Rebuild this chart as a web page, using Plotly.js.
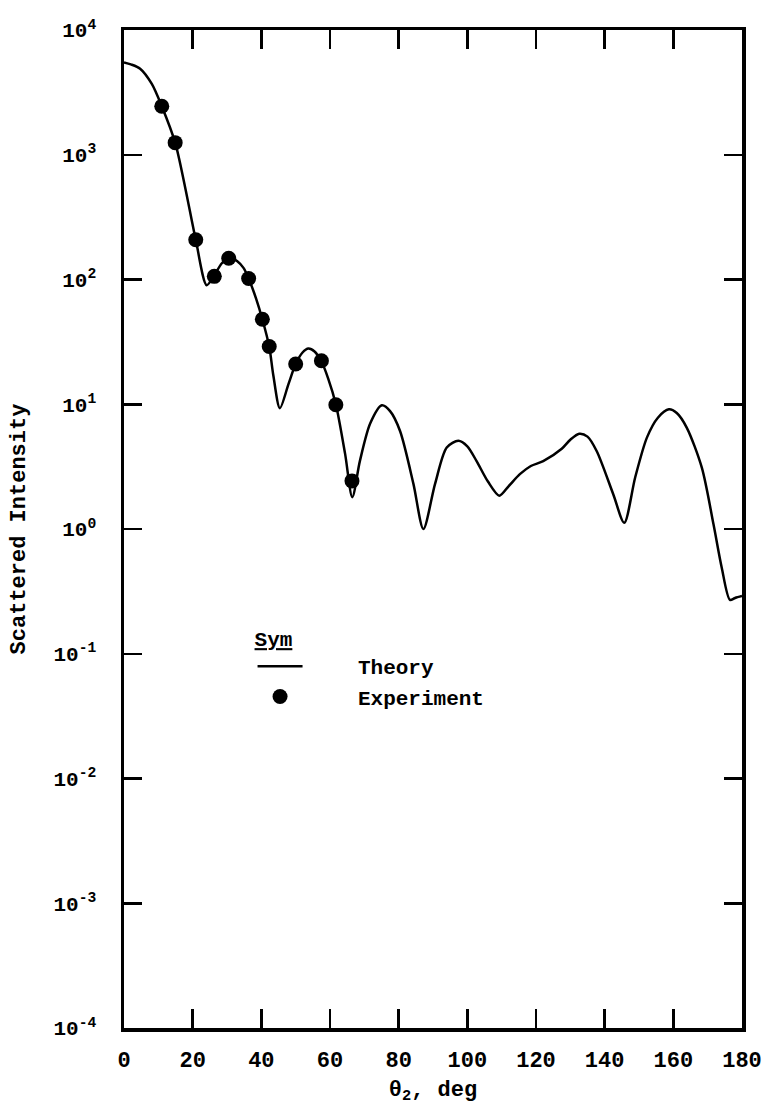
<!DOCTYPE html>
<html><head><meta charset="utf-8">
<script src="https://cdn.plot.ly/plotly-3.0.1.min.js"></script>
<style>html,body{margin:0;padding:0;background:#fff}#chart{width:774px;height:1117px}</style>
</head><body><div id="chart"></div>
<script>
const thetaTheory = [0, 2, 4.7, 8.1, 11, 14.9, 17.8, 20.9, 24.1, 26.3, 28.5, 30.8, 33, 34.8, 36.3, 38.5, 40.3, 42.3, 43.5, 45.4, 47.9, 50, 52, 53.7, 55.5, 57.5, 59.5, 61.7, 64.4, 66.5, 68.7, 71.7, 75.1, 77.5, 80.4, 84.3, 87.2, 90.6, 94, 97.4, 100, 102.7, 106, 109.3, 112, 115.3, 118.5, 122.1, 127.5, 130, 132.6, 135, 137.7, 142.5, 145.7, 148.9, 152.3, 155.5, 158.7, 161, 163.9, 168.3, 171.7, 174.1, 176.5, 178, 180];
const intensityTheory = [5500, 5300, 4900, 3700, 2450, 1250, 550, 208, 90, 108, 135, 150, 140, 124, 102, 70, 48, 29, 17, 9.3, 14.5, 21, 26, 28, 26.5, 22, 16, 10, 4.0, 1.8, 3.5, 7, 9.8, 8.8, 6.1, 2.3, 1.0, 2.3, 4.5, 5.1, 4.6, 3.5, 2.4, 1.85, 2.2, 2.75, 3.2, 3.5, 4.4, 5.2, 5.8, 5.5, 4.2, 1.9, 1.12, 2.6, 5.4, 7.8, 9.1, 8.5, 6.5, 3.1, 1.09, 0.49, 0.27, 0.28, 0.29];
const thetaExp = [11.0, 14.9, 20.9, 26.3, 30.5, 36.3, 40.3, 42.3, 50.0, 57.5, 61.7, 66.4];
const intensityExp = [2450, 1250, 208, 106, 148, 102, 48, 29, 21, 22.3, 9.9, 2.43];
const xTickVals = [0, 20, 40, 60, 80, 100, 120, 140, 160, 180];
const yTickVals = [1e-4, 1e-3, 1e-2, 1e-1, 1, 10, 100, 1000, 10000];
const yTickText = ['10<sup>-4</sup>', '10<sup>-3</sup>', '10<sup>-2</sup>', '10<sup>-1</sup>', '10<sup>0</sup>', '10<sup>1</sup>', '10<sup>2</sup>', '10<sup>3</sup>', '10<sup>4</sup>'];
const legendNames = ['Theory', 'Experiment'];

const mono = 'Liberation Mono, Courier New, monospace';
const pad = '\u00a0\u00a0\u00a0\u00a0';
const traces = [
  {x: thetaTheory, y: intensityTheory, type: 'scatter', mode: 'lines', name: pad + legendNames[0],
   line: {color: '#000', width: 2.5, shape: 'spline', smoothing: 0.8}},
  {x: thetaExp, y: intensityExp, type: 'scatter', mode: 'markers', name: pad + legendNames[1],
   marker: {color: '#000', size: 15}}
];
const layout = {
  width: 774, height: 1117,
  margin: {l: 124, r: 32, t: 30, b: 89},
  paper_bgcolor: '#fff', plot_bgcolor: '#fff',
  showlegend: true,
  legend: {x: 0.208, y: 0.41, xanchor: 'left', yanchor: 'top', bgcolor: 'rgba(0,0,0,0)',
    font: {family: mono, size: 21, color: '#000', weight: 'bold'},
    title: {text: '<u>Sym</u>', side: 'top', font: {family: mono, size: 21, color: '#000', weight: 'bold'}},
    itemwidth: 45, tracegroupgap: 0},
  xaxis: {range: [0, 180], tickvals: xTickVals, ticks: 'inside', ticklen: 19, tickwidth: 2.5,
    tickcolor: '#000', showline: true, linewidth: 3.5, linecolor: '#000', mirror: 'ticks',
    showgrid: false, zeroline: false, ticklabelstandoff: 9,
    tickfont: {family: mono, size: 22, color: '#000', weight: 'bold'},
    title: {text: 'θ<sub>2</sub>, deg', font: {family: mono, size: 22, color: '#000', weight: 'bold'}, standoff: 8}},
  yaxis: {type: 'log', range: [-4, 4], tickvals: yTickVals, ticktext: yTickText, ticks: 'inside',
    ticklen: 18, tickwidth: 2.5, tickcolor: '#000', showline: true, linewidth: 3.5, linecolor: '#000',
    mirror: 'ticks', showgrid: false, zeroline: false, ticklabelstandoff: 20,
    tickfont: {family: mono, size: 21, color: '#000', weight: 'bold'},
    title: {text: 'Scattered Intensity', font: {family: mono, size: 22, color: '#000', weight: 'bold'}, standoff: 22}}
};
Plotly.newPlot('chart', traces, layout, {displayModeBar: false, staticPlot: true});
</script>
</body></html>
